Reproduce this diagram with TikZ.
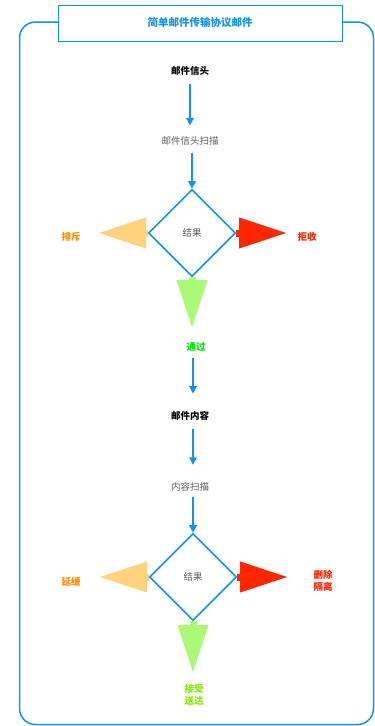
\documentclass[tikz,border=0pt]{standalone}
\usepackage{fontspec}
\setmainfont{Noto Sans CJK SC}
\usetikzlibrary{arrows.meta,shapes.geometric}
\definecolor{mblue}{RGB}{20,145,245}
\definecolor{morange}{RGB}{255,210,125}
\definecolor{mred}{RGB}{255,38,0}
\definecolor{mgreen}{RGB}{170,250,120}
\definecolor{torange}{RGB}{255,140,0}
\definecolor{tgreen}{RGB}{0,225,0}
\definecolor{tgreenb}{RGB}{130,235,0}
\definecolor{tgray}{RGB}{90,90,90}
\pgfdeclarelayer{background}
\pgfsetlayers{background,main}
\tikzset{
  every node/.style={inner sep=1pt, align=center},
  head/.style={font=\fontsize{9.5}{11}\selectfont\bfseries, text=black},
  scan/.style={font=\fontsize{9.5}{11}\selectfont, text=tgray},
  res/.style={draw=mblue, line width=1.6pt, fill=white, diamond, aspect=1,
    minimum width=87pt, minimum height=87pt, inner sep=0pt,
    font=\fontsize{9.5}{11}\selectfont, text=tgray},
  lab/.style={font=\fontsize{9.5}{11.5}\selectfont\bfseries},
  flow/.style={draw=mblue, line width=1.6pt, -{Triangle[length=7.5pt,width=7.5pt]}},
  fat/.style={line width=7pt, -{Triangle[length=48pt,width=29pt]}},
}
\begin{document}
\begin{tikzpicture}[x=1pt,y=-1pt]
\useasboundingbox (0,0) rectangle (375,726);
\begin{pgfonlayer}{background}
\fill[white] (0,0) rectangle (375,726);
\end{pgfonlayer}
% outer frame
\draw[mblue, line width=1.5pt, rounded corners=16pt] (19.5,22) rectangle (373.5,724.5);
% title
\node[draw=mblue, line width=0.8pt, fill=white, minimum width=284pt, minimum height=36pt,
  font=\fontsize{10.5}{12}\selectfont\bfseries, text=mblue] (title) at (200,23) {简单邮件传输协议邮件};

\node[head] (h1) at (190,71) {邮件信头};
\node[scan] (s1) at (190,141) {邮件信头扫描};
\node[res] (d1) at (192,233) {\raisebox{-3.5pt}{结果}};
\node[lab, text=torange] (l1) at (71,237) {排斥};
\node[lab, text=mred] (r1) at (307,237) {拒收};
\node[lab, text=tgreen] (p1) at (196,347) {通过};

\node[head] (h2) at (190,416) {邮件内容};
\node[scan] (s2) at (190,487) {内容扫描};
\node[res] (d2) at (193,577) {\raisebox{-3.5pt}{结果}};
\node[lab, text=torange] (l2) at (71,582) {延缓};
\node[lab, text=mred] (r2) at (323,581) {删除\\隔离};
\node[lab, text=tgreenb] (p2) at (194,695) {接受\\送达};

\coordinate (t1l) at (98,233);
\coordinate (t1r) at (287,233);
\coordinate (t1b) at (192,328);
\coordinate (t2l) at (99,577);
\coordinate (t2r) at (288,577);
\coordinate (t2b) at (193,673);

\begin{pgfonlayer}{background}
\draw[fat, morange] (d1.west) -- (t1l);
\draw[fat, mred] (d1.east) -- (t1r);
\draw[fat, mgreen] (d1.south) -- (t1b);
\draw[fat, morange] (d2.west) -- (t2l);
\draw[fat, mred] (d2.east) -- (t2r);
\draw[fat, mgreen] (d2.south) -- (t2b);
\end{pgfonlayer}

\draw[flow] ([yshift=-7pt]h1.south) -- ([yshift=10pt]s1.north);
\draw[flow] ([yshift=-6pt]s1.south -| d1.north) -- (d1.north);
\draw[flow] ([yshift=-5pt]p1.south -| h2.north) ++(3,0) -- ++(0,36);
\draw[flow] ([yshift=-7pt]h2.south) ++(3,0) -- ++(0,36);
\draw[flow] ([yshift=-4pt]s2.south -| d2.north) -- (d2.north);
\end{tikzpicture}
\end{document}
